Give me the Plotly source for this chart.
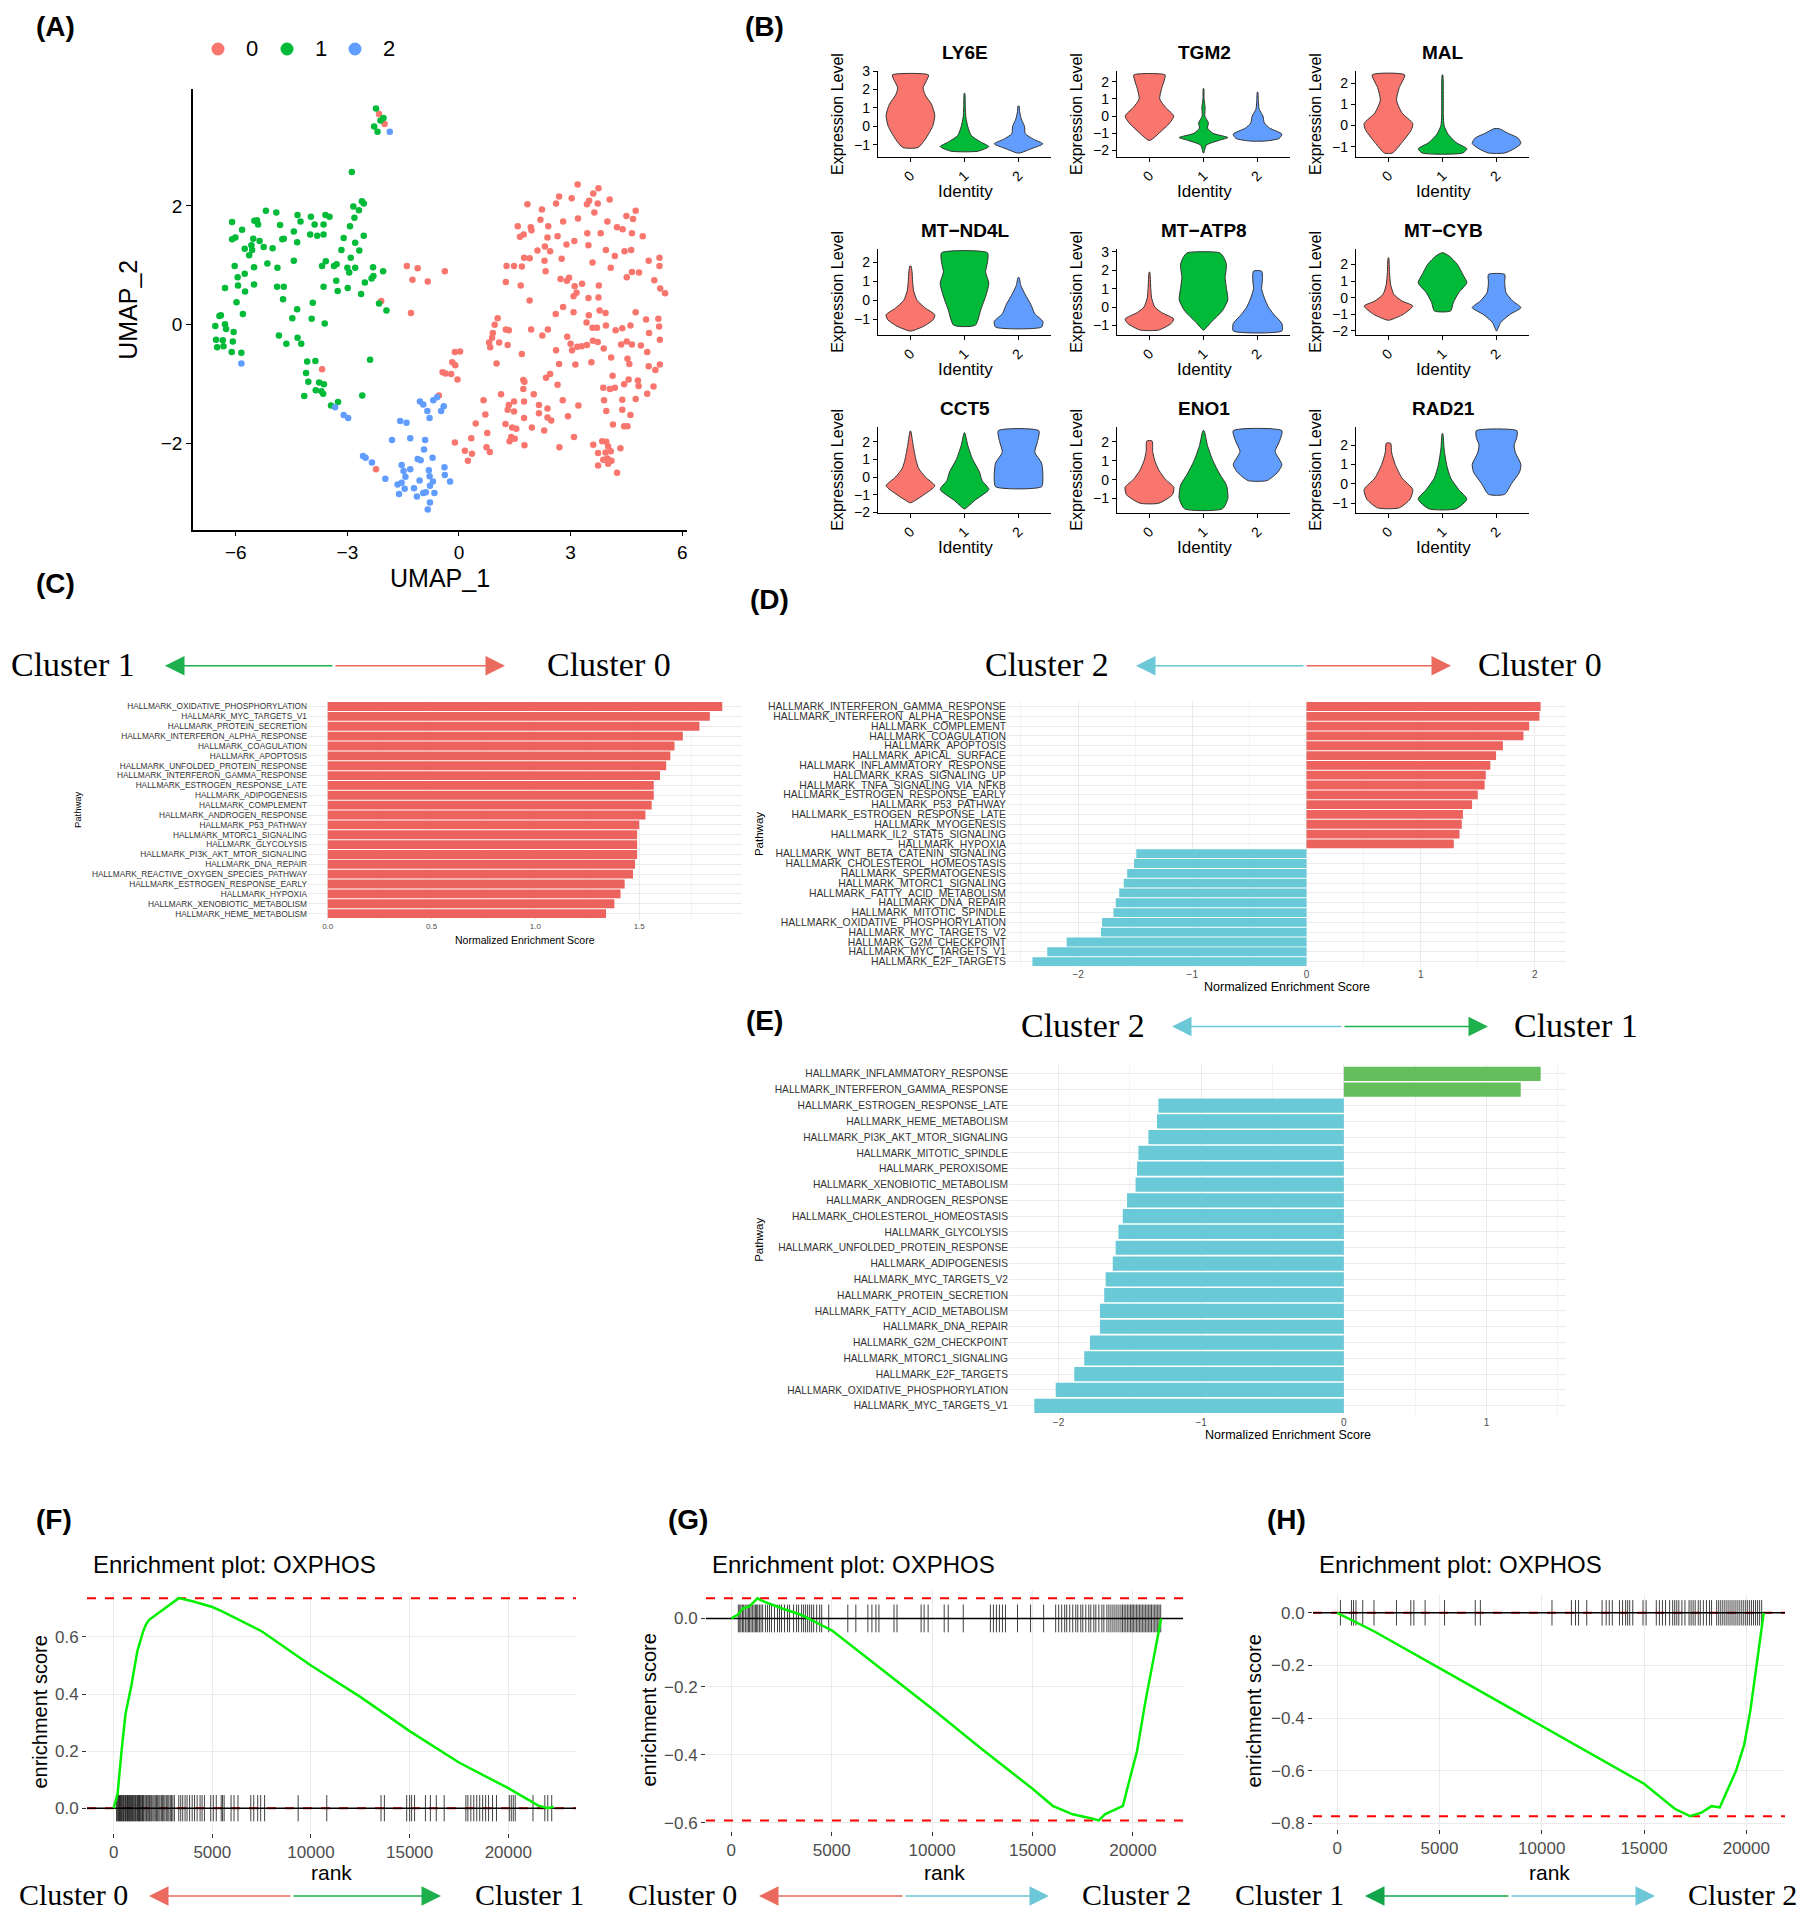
import plotly.graph_objects as go

W, H = 1811, 1920
SANS = "Liberation Sans, Arial, Helvetica, sans-serif"
SERIF = "Liberation Serif, Times New Roman, serif"

RED = "#F8766D"
GREEN = "#00BA38"
BLUE = "#619CFF"
BAR_RED = "#EC625C"
BAR_CYAN = "#69C9D6"
BAR_GREEN = "#64BE5C"

# ---------------- (A) UMAP, cluster points
cluster0 = [(3.19, 2.36), (3.75, 2.30), (3.61, 2.21), (4.05, 2.11), (3.03, 2.13), (2.69, 2.16), (2.61, 2.04),
            (3.50, 2.09), (3.44, 2.03), (1.84, 2.03), (2.23, 1.94), (3.73, 2.04), (4.75, 1.92), (4.50, 1.83),
            (4.68, 1.78), (3.64, 1.89), (3.99, 1.74), (2.80, 1.74), (3.20, 1.79), (2.19, 1.77), (1.58, 1.66),
            (1.93, 1.64), (1.95, 1.59), (2.40, 1.66), (4.25, 1.64), (4.40, 1.61), (4.65, 1.54), (4.94, 1.49),
            (3.81, 1.54), (3.45, 1.54), (1.64, 1.48), (1.74, 1.52), (2.38, 1.47), (2.65, 1.49), (3.10, 1.41),
            (2.31, 1.32), (2.11, 1.25), (2.45, 1.24), (2.89, 1.35), (3.48, 1.34), (3.95, 1.26), (4.19, 1.16),
            (4.45, 1.24), (4.63, 1.26), (5.10, 1.08), (5.39, 1.13), (5.39, 0.99), (5.25, 0.75), (5.41, 0.61),
            (5.54, 0.53), (4.84, 0.88), (4.65, 0.89), (4.51, 0.80), (4.08, 0.96), (3.59, 1.05), (3.76, 0.66),
            (3.31, 0.69), (2.96, 0.79), (3.11, 0.65), (3.16, 0.54), (3.08, 0.48), (2.90, 0.74), (2.73, 0.77),
            (2.76, 1.11), (2.30, 1.08), (2.33, 0.90), (1.90, 1.12), (1.48, 0.99), (1.69, 0.98), (1.75, 1.13),
            (1.28, 0.99), (1.26, 0.72), (1.66, 0.66), (1.90, 0.41), (2.80, 0.30), (3.08, 0.21), (3.49, 0.16),
            (3.78, 0.24), (3.94, 0.20), (3.43, 0.04), (3.59, -0.05), (3.71, -0.05), (4.75, 0.21), (5.03, 0.09),
            (5.38, -0.03), (5.40, -0.25), (5.11, -0.14), (4.61, -0.01), (4.39, -0.06), (4.21, -0.09),
            (3.95, -0.01), (3.60, -0.27), (3.73, -0.29), (3.44, -0.34), (3.30, -0.36), (3.18, -0.37),
            (3.00, -0.32), (3.04, -0.43), (2.91, -0.20), (2.39, -0.08), (2.24, -0.18), (2.61, -0.43),
            (0.96, 0.00), (1.04, 0.11), (1.26, -0.08), (1.34, -0.09), (0.91, -0.14), (0.89, -0.22),
            (0.81, -0.30), (1.08, -0.30), (1.31, -0.34), (1.69, -0.49), (1.01, -0.65), (0.84, -0.38),
            (2.69, -0.66), (3.13, -0.67), (3.56, -0.63), (3.89, -0.40), (4.09, -0.55), (4.13, -0.86),
            (4.53, -0.57), (4.58, -0.66), (4.51, -0.28), (4.36, -0.33), (4.65, -0.33), (4.89, -0.35),
            (5.06, -0.46), (5.10, -0.70), (5.28, -0.76), (5.40, -0.67), (4.56, -0.92), (4.81, -0.94),
            (5.23, -1.04), (5.06, -1.16), (4.83, -1.03), (4.44, -1.00), (4.19, -1.06), (4.06, -1.08),
            (3.88, -1.06), (3.90, -1.27), (3.96, -1.45), (4.14, -1.68), (4.39, -1.26), (4.39, -1.43),
            (4.44, -1.71), (4.53, -1.71), (4.61, -1.52), (4.75, -1.25), (2.34, -0.89), (2.65, -1.01),
            (2.79, -1.27), (3.21, -1.36), (2.93, -1.54), (2.48, -1.61), (2.29, -1.78), (2.38, -1.56),
            (2.15, -1.35), (2.15, -1.49), (2.01, -1.17), (1.76, -0.96), (1.73, -1.08), (1.75, -1.29),
            (1.48, -1.29), (1.34, -1.35), (1.31, -1.43), (1.48, -1.46), (1.13, -1.17), (0.66, -1.27),
            (0.45, -1.66), (1.25, -1.67), (1.54, -1.75), (1.43, -1.73), (1.40, -1.89), (1.75, -1.57),
            (1.96, -1.73), (1.76, -2.03), (1.50, -1.92), (1.36, -1.96), (0.76, -1.82), (0.74, -2.06),
            (0.83, -2.14), (0.33, -1.91), (-0.11, -1.98), (0.16, -2.12), (0.24, -2.29), (0.35, -2.17),
            (2.70, -2.06), (3.09, -1.89), (3.85, -1.96), (3.96, -1.97), (4.01, -2.05), (4.08, -2.13),
            (3.74, -2.16), (3.94, -2.15), (4.34, -2.08), (3.99, -2.25), (4.10, -2.29), (3.88, -2.27),
            (3.74, -2.37), (4.01, -2.34), (4.25, -2.49), (3.61, -2.02), (-0.44, -0.80), (-0.36, -0.82),
            (-0.21, -0.83), (-0.18, -0.63), (-0.10, -0.68), (-0.04, -0.92), (-0.11, -0.46), (0.03, -0.45),
            (0.71, -1.51), (2.45, -0.83), (1.73, -0.93), (5.36, 0.10), (3.48, 0.45), (3.75, 0.46),
            (2.60, 0.18), (1.94, -0.08), (2.38, -1.41), (-2.09, 0.40), (-3.68, -0.75), (-0.54, -1.19),
            (-2.23, -2.43), (-2.15, 3.55), (-2.00, 3.38), (-1.40, 0.99), (-1.11, 0.95), (-1.25, 0.76),
            (-0.84, 0.73), (-0.38, 0.90), (-1.29, 0.20)]

cluster1 = [(-2.23, 3.64), (-2.03, 3.48), (-2.28, 3.34), (-2.19, 3.25), (-2.11, 3.44), (-2.88, 2.57),
            (-2.56, 2.04), (-2.61, 2.08), (-2.84, 1.99), (-2.69, 1.93), (-2.81, 1.80), (-2.93, 1.66),
            (-2.56, 1.50), (-3.10, 1.46), (-2.79, 1.38), (-2.68, 1.25), (-2.91, 1.13), (-3.16, 1.26),
            (-3.59, 1.85), (-3.48, 1.82), (-3.64, 1.69), (-3.88, 1.69), (-4.34, 1.85), (-4.26, 1.74),
            (-3.98, 1.82), (-3.64, 1.52), (-3.81, 1.50), (-4.00, 1.52), (-4.44, 1.57), (-4.35, 1.39),
            (-4.71, 1.45), (-5.19, 1.92), (-4.91, 1.89), (-5.50, 1.75), (-5.40, 1.69), (-5.43, 1.76),
            (-6.10, 1.73), (-5.83, 1.60), (-4.81, 1.68), (-6.10, 1.44), (-6.01, 1.47), (-5.53, 1.45),
            (-5.36, 1.41), (-5.58, 1.34), (-5.76, 1.28), (-5.56, 1.26), (-5.25, 1.31), (-5.01, 1.29),
            (-4.75, 1.44), (-5.64, 1.17), (-6.03, 0.99), (-5.15, 1.03), (-4.88, 0.96), (-4.44, 1.08),
            (-5.51, 0.97), (-5.95, 0.80), (-5.76, 0.86), (-6.29, 0.62), (-5.94, 0.66), (-5.51, 0.68),
            (-5.75, 0.56), (-4.89, 0.64), (-4.71, 0.64), (-5.98, 0.38), (-4.73, 0.43), (-3.93, 0.37),
            (-4.35, 0.26), (-4.48, 0.11), (-3.96, 0.10), (-3.61, 0.02), (-3.29, 1.02), (-3.36, 0.99),
            (-3.58, 1.07), (-3.68, 0.99), (-3.00, 0.96), (-2.95, 0.88), (-2.79, 0.96), (-2.31, 0.97),
            (-2.04, 0.90), (-3.30, 0.74), (-3.64, 0.64), (-3.26, 0.57), (-2.99, 0.62), (-2.53, 0.71),
            (-2.35, 0.78), (-2.30, 0.82), (-2.63, 0.52), (-2.15, 0.36), (-1.95, 0.24), (-6.44, 0.15),
            (-6.40, 0.16), (-6.29, 0.01), (-6.55, -0.02), (-6.26, -0.07), (-6.06, -0.12), (-6.08, -0.28),
            (-6.53, -0.25), (-6.35, -0.26), (-6.50, -0.38), (-6.33, -0.36), (-6.11, -0.46), (-5.85, -0.47),
            (-5.81, 0.18), (-4.84, -0.18), (-4.64, -0.32), (-4.34, -0.22), (-4.24, -0.32), (-4.08, -0.62),
            (-3.86, -0.61), (-4.11, -0.81), (-4.05, -0.96), (-3.76, -0.97), (-3.85, -1.10), (-3.65, -1.16),
            (-3.70, -1.12), (-4.16, -1.20), (-3.44, -1.36), (-3.25, -1.30), (-2.39, -0.59), (-2.60, -1.19),
            (-3.63, -1.00)]

cluster2 = [(-5.85, -0.65), (-3.33, -1.39), (-3.10, -1.52), (-2.98, -1.57), (-1.86, 3.25), (-2.58, -2.21),
            (-2.51, -2.24), (-2.34, -2.32), (-1.98, -2.59), (-1.80, -1.94), (-1.58, -1.62), (-1.41, -1.65),
            (-1.31, -1.91), (-1.54, -2.36), (-1.49, -2.46), (-1.31, -2.43), (-1.05, -1.29), (-0.96, -1.34),
            (-0.69, -1.27), (-0.59, -1.22), (-0.85, -1.45), (-0.79, -1.57), (-0.48, -1.45), (-0.41, -1.37),
            (-0.91, -1.94), (-0.94, -2.10), (-1.11, -2.26), (-1.03, -2.28), (-0.71, -2.24), (-0.81, -2.45),
            (-0.79, -2.55), (-0.39, -2.40), (-0.38, -2.53), (-0.24, -2.64), (-0.78, -2.71), (-0.70, -2.64),
            (-1.06, -2.62), (-1.65, -2.69), (-1.54, -2.66), (-1.44, -2.56), (-1.61, -2.85), (-1.46, -2.76),
            (-1.21, -2.75), (-1.13, -2.89), (-0.96, -2.83), (-0.89, -2.82), (-0.66, -2.83), (-0.78, -2.99),
            (-0.84, -3.11)]

# ---------------- (B) violin outlines: (expression level, violin width)
genes = ["LY6E", "TGM2", "MAL", "MT\u2212ND4L", "MT\u2212ATP8", "MT\u2212CYB", "CCT5", "ENO1", "RAD21"]
LY6E = [[(-1.15, 0.28), (-0.7, 0.55), (0.0, 0.82), (0.6, 0.9), (1.2, 0.78), (1.7, 0.55), (2.1, 0.47), (2.5, 0.6), (2.8, 0.67)],
        [(-1.35, 0.5), (-1.1, 0.9), (-0.85, 0.6), (-0.5, 0.25), (0.0, 0.12), (0.5, 0.05), (1.0, 0.03), (1.8, 0.01)],
        [(-1.45, 0.05), (-1.2, 0.5), (-0.95, 0.9), (-0.7, 0.55), (-0.4, 0.25), (0.0, 0.22), (0.4, 0.1), (0.8, 0.04), (1.1, 0.02)]]
TGM2 = [[(-1.4, 0.05), (-1.0, 0.35), (-0.4, 0.75), (0.0, 0.9), (0.5, 0.6), (1.0, 0.38), (1.6, 0.45), (2.1, 0.55), (2.4, 0.58)],
        [(-2.15, 0.01), (-1.7, 0.1), (-1.4, 0.6), (-1.25, 0.9), (-1.0, 0.35), (-0.7, 0.15), (-0.4, 0.18), (0.0, 0.05), (0.5, 0.06), (1.0, 0.02), (1.6, 0.01)],
        [(-1.45, 0.3), (-1.3, 0.8), (-1.05, 0.9), (-0.7, 0.45), (-0.4, 0.25), (0.0, 0.2), (0.4, 0.06), (0.9, 0.03), (1.4, 0.01)]]
MAL = [[(-1.3, 0.15), (-0.8, 0.5), (-0.2, 0.85), (0.1, 0.9), (0.6, 0.5), (1.2, 0.3), (1.8, 0.4), (2.4, 0.6)],
       [(-1.3, 0.75), (-1.1, 0.9), (-0.8, 0.5), (-0.4, 0.2), (0.0, 0.06), (0.5, 0.03), (1.2, 0.03), (2.4, 0.01)],
       [(-1.3, 0.3), (-1.1, 0.65), (-0.85, 0.9), (-0.6, 0.8), (-0.35, 0.4), (-0.15, 0.1)]]
MT_ND4L = [[(-1.6, 0.05), (-1.35, 0.5), (-1.0, 0.85), (-0.75, 0.9), (-0.4, 0.55), (0.0, 0.25), (0.5, 0.12), (1.0, 0.08), (1.5, 0.06), (1.8, 0.02)],
           [(-1.3, 0.4), (-0.5, 0.6), (0.3, 0.8), (0.9, 0.9), (1.5, 0.78), (2.0, 0.85), (2.5, 0.85)],
           [(-1.4, 0.85), (-1.1, 0.9), (-0.7, 0.6), (-0.2, 0.45), (0.3, 0.25), (0.8, 0.08), (1.2, 0.02)]]
MT_ATP8 = [[(-1.25, 0.35), (-0.9, 0.8), (-0.65, 0.9), (-0.3, 0.45), (0.0, 0.2), (0.5, 0.08), (1.0, 0.05), (1.9, 0.01)],
           [(-1.25, 0.02), (-0.8, 0.3), (-0.2, 0.7), (0.4, 0.9), (1.0, 0.85), (1.6, 0.8), (2.3, 0.85), (2.7, 0.75), (2.95, 0.6)],
           [(-1.3, 0.9), (-0.9, 0.9), (-0.4, 0.6), (0.0, 0.4), (0.5, 0.25), (1.0, 0.15), (1.5, 0.18), (1.95, 0.15)]]
MT_CYB = [[(-1.35, 0.05), (-1.0, 0.55), (-0.5, 0.9), (-0.2, 0.5), (0.2, 0.2), (0.8, 0.08), (1.5, 0.04), (2.4, 0.01)],
          [(-0.8, 0.3), (-0.3, 0.4), (0.3, 0.6), (0.9, 0.9), (1.4, 0.75), (2.0, 0.55), (2.5, 0.25), (2.7, 0.03)],
          [(-2.0, 0.01), (-1.5, 0.15), (-1.0, 0.5), (-0.6, 0.9), (-0.2, 0.6), (0.3, 0.35), (0.9, 0.3), (1.4, 0.3)]]
CCT5 = [[(-1.45, 0.03), (-1.0, 0.5), (-0.5, 0.9), (0.0, 0.55), (0.5, 0.3), (1.0, 0.2), (1.8, 0.1), (2.6, 0.01)],
        [(-1.8, 0.02), (-1.3, 0.4), (-0.7, 0.9), (-0.2, 0.65), (0.3, 0.55), (1.0, 0.3), (1.8, 0.12), (2.5, 0.01)],
        [(-0.55, 0.85), (0.0, 0.9), (0.8, 0.85), (1.4, 0.6), (2.0, 0.7), (2.62, 0.75)]]
ENO1 = [[(-1.25, 0.35), (-0.8, 0.85), (-0.4, 0.9), (0.0, 0.6), (0.5, 0.35), (1.0, 0.2), (1.5, 0.12), (2.05, 0.1)],
        [(-1.55, 0.7), (-1.0, 0.9), (-0.3, 0.85), (0.3, 0.6), (1.0, 0.35), (1.8, 0.15), (2.6, 0.02)],
        [(-0.05, 0.35), (0.4, 0.75), (0.8, 0.9), (1.5, 0.65), (2.0, 0.8), (2.6, 0.9)]]
RAD21 = [[(-1.25, 0.4), (-0.8, 0.8), (-0.3, 0.9), (0.3, 0.5), (1.0, 0.25), (1.6, 0.12), (2.1, 0.08)],
         [(-1.3, 0.5), (-0.8, 0.9), (-0.3, 0.6), (0.3, 0.3), (1.0, 0.15), (1.8, 0.06), (2.6, 0.01)],
         [(-0.55, 0.3), (0.0, 0.55), (0.6, 0.85), (1.0, 0.9), (1.6, 0.7), (2.0, 0.65), (2.4, 0.75), (2.75, 0.75)]]
violins = [LY6E, TGM2, MAL, MT_ND4L, MT_ATP8, MT_CYB, CCT5, ENO1, RAD21]

# ---------------- (C) Cluster 1 vs Cluster 0
C_paths = ["HALLMARK_OXIDATIVE_PHOSPHORYLATION", "HALLMARK_MYC_TARGETS_V1", "HALLMARK_PROTEIN_SECRETION",
           "HALLMARK_INTERFERON_ALPHA_RESPONSE", "HALLMARK_COAGULATION", "HALLMARK_APOPTOSIS",
           "HALLMARK_UNFOLDED_PROTEIN_RESPONSE", "HALLMARK_INTERFERON_GAMMA_RESPONSE",
           "HALLMARK_ESTROGEN_RESPONSE_LATE", "HALLMARK_ADIPOGENESIS", "HALLMARK_COMPLEMENT",
           "HALLMARK_ANDROGEN_RESPONSE", "HALLMARK_P53_PATHWAY", "HALLMARK_MTORC1_SIGNALING",
           "HALLMARK_GLYCOLYSIS", "HALLMARK_PI3K_AKT_MTOR_SIGNALING", "HALLMARK_DNA_REPAIR",
           "HALLMARK_REACTIVE_OXYGEN_SPECIES_PATHWAY", "HALLMARK_ESTROGEN_RESPONSE_EARLY",
           "HALLMARK_HYPOXIA", "HALLMARK_XENOBIOTIC_METABOLISM", "HALLMARK_HEME_METABOLISM"]
C_nes = [1.90, 1.84, 1.79, 1.71, 1.67, 1.65, 1.63, 1.60, 1.57, 1.57, 1.56, 1.53, 1.50, 1.49, 1.49, 1.49,
         1.48, 1.47, 1.43, 1.41, 1.38, 1.34]

# ---------------- (D) Cluster 2 vs Cluster 0
D_paths = ["HALLMARK_INTERFERON_GAMMA_RESPONSE", "HALLMARK_INTERFERON_ALPHA_RESPONSE", "HALLMARK_COMPLEMENT",
           "HALLMARK_COAGULATION", "HALLMARK_APOPTOSIS", "HALLMARK_APICAL_SURFACE",
           "HALLMARK_INFLAMMATORY_RESPONSE", "HALLMARK_KRAS_SIGNALING_UP", "HALLMARK_TNFA_SIGNALING_VIA_NFKB",
           "HALLMARK_ESTROGEN_RESPONSE_EARLY", "HALLMARK_P53_PATHWAY", "HALLMARK_ESTROGEN_RESPONSE_LATE",
           "HALLMARK_MYOGENESIS", "HALLMARK_IL2_STAT5_SIGNALING", "HALLMARK_HYPOXIA",
           "HALLMARK_WNT_BETA_CATENIN_SIGNALING", "HALLMARK_CHOLESTEROL_HOMEOSTASIS",
           "HALLMARK_SPERMATOGENESIS", "HALLMARK_MTORC1_SIGNALING", "HALLMARK_FATTY_ACID_METABOLISM",
           "HALLMARK_DNA_REPAIR", "HALLMARK_MITOTIC_SPINDLE", "HALLMARK_OXIDATIVE_PHOSPHORYLATION",
           "HALLMARK_MYC_TARGETS_V2", "HALLMARK_G2M_CHECKPOINT", "HALLMARK_MYC_TARGETS_V1",
           "HALLMARK_E2F_TARGETS"]
D_nes = [2.05, 2.04, 1.95, 1.90, 1.72, 1.66, 1.61, 1.57, 1.56, 1.50, 1.45, 1.37, 1.36, 1.34, 1.29,
         -1.49, -1.51, -1.57, -1.60, -1.64, -1.67, -1.69, -1.79, -1.80, -2.10, -2.27, -2.40]

# ---------------- (E) Cluster 2 vs Cluster 1
E_paths = ["HALLMARK_INFLAMMATORY_RESPONSE", "HALLMARK_INTERFERON_GAMMA_RESPONSE",
           "HALLMARK_ESTROGEN_RESPONSE_LATE", "HALLMARK_HEME_METABOLISM", "HALLMARK_PI3K_AKT_MTOR_SIGNALING",
           "HALLMARK_MITOTIC_SPINDLE", "HALLMARK_PEROXISOME", "HALLMARK_XENOBIOTIC_METABOLISM",
           "HALLMARK_ANDROGEN_RESPONSE", "HALLMARK_CHOLESTEROL_HOMEOSTASIS", "HALLMARK_GLYCOLYSIS",
           "HALLMARK_UNFOLDED_PROTEIN_RESPONSE", "HALLMARK_ADIPOGENESIS", "HALLMARK_MYC_TARGETS_V2",
           "HALLMARK_PROTEIN_SECRETION", "HALLMARK_FATTY_ACID_METABOLISM", "HALLMARK_DNA_REPAIR",
           "HALLMARK_G2M_CHECKPOINT", "HALLMARK_MTORC1_SIGNALING", "HALLMARK_E2F_TARGETS",
           "HALLMARK_OXIDATIVE_PHOSPHORYLATION", "HALLMARK_MYC_TARGETS_V1"]
E_nes = [1.38, 1.24, -1.30, -1.31, -1.37, -1.44, -1.45, -1.46, -1.52, -1.55, -1.58, -1.60, -1.62, -1.67,
         -1.68, -1.71, -1.71, -1.78, -1.82, -1.89, -2.02, -2.17]

# ---------------- (F)(G)(H) running enrichment score and gene hits
F_rank = [0, 200, 400, 600, 900, 1200, 1500, 1650, 1800, 2200, 2600, 3000, 3300, 4000, 5000, 5500, 7500,
          10000, 12500, 15000, 17500, 20000, 21500, 22000, 22300]
F_es = [0, 0.05, 0.2, 0.33, 0.43, 0.55, 0.62, 0.645, 0.66, 0.68, 0.70, 0.72, 0.736, 0.725, 0.705, 0.69, 0.62,
        0.50, 0.39, 0.27, 0.16, 0.07, 0.01, 0.0, 0.005]
F_hits = [150, 190, 240, 270, 300, 350, 380, 410, 460, 490, 520, 570, 600, 640, 690, 710, 750, 800, 830, 870,
          900, 950, 980, 1020, 1070, 1100, 1140, 1190, 1220, 1260, 1310, 1340, 1380, 1430, 1460, 1500, 1540,
          1600, 1660, 1700, 1760, 1820, 1880, 1930, 1990, 2050, 2110, 2170, 2230, 2290, 2350, 2420, 2480,
          2540, 2600, 2670, 2740, 2800, 2870, 2930, 3000, 3080, 3300, 3400, 3500, 3620, 3720, 3850, 3980,
          4100, 4230, 4380, 4480, 4600, 4920, 5050, 5200, 5450, 5520, 5600, 5950, 6100, 6300, 6950, 7100,
          7300, 7450, 7650, 9350, 10800, 13550, 13720, 14850, 15000, 15100, 15250, 15800, 16050, 16350,
          16750, 17850, 17950, 18100, 18250, 18400, 18550, 18700, 18850, 19000, 19200, 19400, 20050, 20150,
          20250, 20350, 21250, 21850, 22000, 22200]

G_rank = [0, 300, 600, 900, 1300, 1600, 2500, 3500, 4500, 5000, 7500, 10000, 12500, 15000, 16000, 17000,
          18000, 18300, 18600, 19500, 19800, 20200, 20600, 21000, 21200, 21400]
G_es = [0, 0.01, 0.03, 0.035, 0.059, 0.05, 0.03, 0.01, -0.02, -0.035, -0.15, -0.265, -0.385, -0.5, -0.55,
        -0.575, -0.588, -0.593, -0.575, -0.55, -0.48, -0.39, -0.25, -0.13, -0.06, 0.0]
G_hits = [350, 420, 480, 560, 620, 700, 780, 850, 900, 980, 1050, 1130, 1200, 1260, 1320, 1400, 1480, 1560,
          1700, 1800, 1900, 2000, 2150, 2300, 2400, 2500, 2650, 2800, 2900, 3100, 3250, 3350, 3500, 3600,
          3700, 3800, 3900, 4000, 4100, 4250, 4400, 4500, 4850, 5800, 6200, 6800, 7000, 7200, 7350, 8100,
          8250, 9450, 9600, 9800, 10600, 10800, 11550, 12900, 13050, 13200, 13350, 13500, 13650, 14250,
          14900, 15550, 16150, 16300, 16450, 16600, 16700, 16850, 17000, 17150, 17250, 17400, 17500, 17650,
          17800, 17900, 18050, 18150, 18300, 18450, 18550, 18700, 18800, 18900, 19000, 19100, 19200, 19300,
          19400, 19480, 19560, 19640, 19720, 19800, 19880, 19950, 20020, 20100, 20180, 20250, 20330, 20400,
          20480, 20550, 20630, 20700, 20780, 20850, 20920, 21000, 21080, 21150, 21230, 21300, 21380]

H_rank = [0, 1800, 5000, 7500, 10000, 12500, 15000, 16500, 17250, 17800, 18300, 18700, 19000, 19500, 19900,
          20200, 20500, 20700, 20850]
H_es = [0, -0.07, -0.21, -0.32, -0.43, -0.54, -0.65, -0.745, -0.773, -0.76, -0.735, -0.74, -0.69, -0.6, -0.5,
        -0.37, -0.2, -0.08, 0.0]
H_hits = [160, 700, 800, 920, 1250, 1800, 2900, 3600, 3750, 4300, 5250, 6750, 7000, 10500, 11450, 11650,
          11800, 12200, 12950, 13150, 13300, 13450, 13800, 13950, 14100, 14200, 14300, 14450, 14950, 15100,
          15600, 15750, 15900, 16050, 16250, 16400, 16500, 16600, 16700, 16850, 17000, 17200, 17300, 17400,
          17500, 17650, 17750, 17900, 18050, 18200, 18300, 18550, 18650, 18750, 18850, 18950, 19050, 19150,
          19250, 19350, 19450, 19550, 19650, 19750, 19850, 19950, 20050, 20150, 20250, 20350, 20450, 20550,
          20650, 20750]


# ---------------------------------------------------------------- helpers
# page offset seen in the screenshot: content lands a little right and low
def fx(x):
    return x - 8


def fy(y):
    return (y - 14) / 0.9922


def px(x):
    return fx(x) / W


def py(y):
    return 1 - fy(y) / H


layout = dict(width=W, height=H, margin=dict(l=0, r=0, t=0, b=0), autosize=False,
              paper_bgcolor="white", plot_bgcolor="white", showlegend=False,
              font=dict(family=SANS, color="black"))
ann = []
shp = []
traces = []


def axes(i, xbox, ybox, xa, ya):
    k = "" if i == 1 else str(i)
    layout["xaxis" + k] = dict(domain=[px(xbox[0]), px(xbox[1])], anchor="y" + k, **xa)
    layout["yaxis" + k] = dict(domain=[py(ybox[1]), py(ybox[0])], anchor="x" + k, **ya)
    return "x" + k, "y" + k


def text(x, y, s, size, bold=False, family=SANS, angle=0, xanchor="center", color="black"):
    ann.append(dict(x=px(x), y=py(y), xref="paper", yref="paper", text="<b>%s</b>" % s if bold else s,
                    showarrow=False, font=dict(size=size, family=family, color=color), textangle=angle,
                    xanchor=xanchor, yanchor="middle"))


def arrow(x_end, x_mid, y, color):
    ann.append(dict(x=px(x_end), y=py(y), xref="paper", yref="paper", ax=x_mid - x_end, ay=0, text="",
                    showarrow=True, arrowhead=2, arrowsize=2.6, arrowwidth=1.5, arrowcolor=color))


def header(left, right, xl, xr, a0, amid, a1, y, cl, cr, size=34):
    text(xl, y, left, size, family=SERIF)
    text(xr, y, right, size, family=SERIF)
    arrow(a0, amid, y + 1, cl)
    arrow(a1, amid, y + 1, cr)


# panel letters
for s, x, y in [("(A)", 55, 25), ("(B)", 764, 25), ("(C)", 55, 582), ("(D)", 769, 598), ("(E)", 764, 1019),
                ("(F)", 54, 1518), ("(G)", 688, 1518), ("(H)", 1286, 1518)]:
    text(x, y, s, 28, bold=True)

# ---------------------------------------------------------------- (A)
xa = dict(range=[-7.15, 6.13], showline=True, linecolor="black", linewidth=1.5, ticks="outside", ticklen=5,
          tickcolor="black", tickvals=[-6, -3, 0, 3, 6], tickfont=dict(size=19), showgrid=False, zeroline=False)
ya = dict(range=[-3.45, 3.97], showline=True, linecolor="black", linewidth=1.5, ticks="outside", ticklen=5,
          tickcolor="black", tickvals=[-2, 0, 2], tickfont=dict(size=19), showgrid=False, zeroline=False)
xr, yr = axes(1, (193, 687), (87, 528), xa, ya)
for pts, col in [(cluster0, RED), (cluster1, GREEN), (cluster2, BLUE)]:
    traces.append(go.Scatter(x=[p[0] for p in pts], y=[p[1] for p in pts], mode="markers",
                             marker=dict(size=6.5, color=col), xaxis=xr, yaxis=yr))
text(440, 576, "UMAP_1", 25)
text(128, 308, "UMAP_2", 25, angle=-90)
for lab, xd, col in [("0", 218, RED), ("1", 287, GREEN), ("2", 355, BLUE)]:
    shp.append(dict(type="circle", xref="paper", yref="paper", xsizemode="pixel", ysizemode="pixel",
                    xanchor=px(xd), yanchor=py(47), x0=-6.5, x1=6.5, y0=-6.5, y1=6.5,
                    fillcolor=col, line=dict(width=0)))
    text(xd + 34, 47, lab, 22)

# ---------------------------------------------------------------- (B)
for g, (gene, prof) in enumerate(zip(genes, violins)):
    r, c = divmod(g, 3)
    allys = [p[0] for v in prof for p in v]
    lo, hi = min(allys), max(allys)
    pad = 0.05 * (hi - lo)
    xa = dict(range=[-0.6, 2.6], showline=True, linecolor="black", linewidth=1.3, ticks="outside", ticklen=4,
              tickcolor="black", tickvals=[0, 1, 2], ticktext=["0", "1", "2"], tickangle=-45,
              tickfont=dict(size=14), showgrid=False, zeroline=False)
    ya = dict(range=[lo - pad, hi + pad], showline=True, linecolor="black", linewidth=1.3, ticks="outside",
              ticklen=4, tickcolor="black", dtick=1, tickfont=dict(size=14), showgrid=False, zeroline=False)
    xr, yr = axes(2 + g, (878 + 239 * c, 1051 + 239 * c), (69 + 178 * r, 155 + 178 * r), xa, ya)
    for k, (v, col) in enumerate(zip(prof, [RED, GREEN, BLUE])):
        ys = [p[0] for p in v]
        hw = [p[1] / 2 for p in v]
        vx = [k + h for h in hw] + [k - h for h in hw[::-1]] + [k + hw[0]]
        vy = ys + ys[::-1] + [ys[0]]
        traces.append(go.Scatter(x=vx, y=vy, mode="lines", fill="toself", fillcolor=col,
                                 line=dict(color="#333333", width=1, shape="spline", smoothing=0.6),
                                 xaxis=xr, yaxis=yr))
    text(965 + 239 * c, 51 + 178 * r, gene, 19, bold=True)
    text(965 + 239 * c, 190 + 178 * r, "Identity", 17)
    text(838 + 239 * c, 112 + 178 * r, "Expression Level", 16, angle=-90)


# ---------------------------------------------------------------- (C)(D)(E)
def nes_panel(i, paths, nes, colors, xbox, ybox, lab_size, tick_size, title_size, dtick, fmt, path_x):
    lo, hi = min(0, min(nes)), max(0, max(nes))
    pad = 0.05 * (hi - lo)
    n = len(paths)
    xa = dict(range=[lo - pad, hi + pad], dtick=dtick, tickformat=fmt, showgrid=True, gridcolor="#EBEBEB",
              gridwidth=1, minor=dict(showgrid=True, gridcolor="#F4F4F4", dtick=dtick / 2),
              zeroline=False, showline=False, ticks="", tickfont=dict(size=tick_size, color="#4D4D4D"))
    ya = dict(type="category", categoryorder="array", categoryarray=paths, range=[n - 0.4, -0.6],
              tickmode="array", tickvals=paths, ticktext=paths,
              showgrid=True, gridcolor="#EBEBEB", gridwidth=1, zeroline=False, showline=False, ticks="",
              tickfont=dict(size=lab_size, color="#333333"))
    xr, yr = axes(i, xbox, ybox, xa, ya)
    traces.append(go.Bar(x=nes, y=paths, orientation="h", width=0.9, marker=dict(color=colors, line=dict(width=0)),
                         xaxis=xr, yaxis=yr))
    cx = (xbox[0] + xbox[1]) / 2
    text(cx, ybox[1] + 20, "Normalized Enrichment Score", title_size)
    text(path_x, (ybox[0] + ybox[1]) / 2, "Pathway", title_size - 1, angle=-90)


nes_panel(11, C_paths, C_nes, [BAR_RED] * len(C_nes), (308, 742), (699, 918), 8.3, 8, 10.5, 0.5, ".1f", 77)
nes_panel(12, D_paths, D_nes, [BAR_RED if v > 0 else BAR_CYAN for v in D_nes], (1007, 1566), (699, 966),
          10.4, 10, 12.5, 1, "d", 759)
nes_panel(13, E_paths, E_nes, [BAR_GREEN if v > 0 else BAR_CYAN for v in E_nes], (1009, 1566), (1063, 1414),
          10.2, 10, 12.5, 1, "d", 759)

header("Cluster 1", "Cluster 0", 73, 609, 165, 334, 505, 663, "#1DB04C", "#EA6A5E")
header("Cluster 2", "Cluster 0", 1047, 1540, 1136, 1305, 1451, 663, "#6CC7D6", "#EA6A5E")
header("Cluster 2", "Cluster 1", 1083, 1576, 1172, 1343, 1488, 1024, "#6CC7D6", "#1DB04C")


# ---------------------------------------------------------------- (F)(G)(H)
def gsea_panel(i, rank, es, hits, xbox, ybox, xrange_, yrange_, ytitle_x):
    xa = dict(range=xrange_, tickvals=[0, 5000, 10000, 15000, 20000], tickformat="d", showgrid=True,
              gridcolor="#EBEBEB", gridwidth=1.3, zeroline=False, showline=False, ticks="outside", ticklen=4,
              tickcolor="#333333", tickfont=dict(size=17, color="#4D4D4D"))
    ya = dict(range=yrange_, dtick=0.2, tickformat=".1f", showgrid=True, gridcolor="#EBEBEB", gridwidth=1.3,
              zeroline=False, showline=False, ticks="outside", ticklen=4, tickcolor="#333333",
              tickfont=dict(size=17, color="#4D4D4D"))
    xr, yr = axes(i, xbox, ybox, xa, ya)
    top, bot = max(es), min(es)
    half = (top - bot) / 16
    rx, ry = [], []
    for h in hits:
        rx += [h, h, None]
        ry += [-half, half, None]
    lim = [xrange_[0], xrange_[1]]
    traces.append(go.Scatter(x=lim, y=[bot, bot], mode="lines", line=dict(color="red", width=2, dash="dash"),
                             xaxis=xr, yaxis=yr))
    traces.append(go.Scatter(x=lim, y=[top, top], mode="lines", line=dict(color="red", width=2, dash="dash"),
                             xaxis=xr, yaxis=yr))
    traces.append(go.Scatter(x=lim, y=[0, 0], mode="lines", line=dict(color="black", width=1.6),
                             xaxis=xr, yaxis=yr))
    traces.append(go.Scatter(x=rx, y=ry, mode="lines", line=dict(color="rgba(0,0,0,0.75)", width=1),
                             xaxis=xr, yaxis=yr))
    traces.append(go.Scatter(x=rank, y=es, mode="lines", line=dict(color="#00F000", width=2.5),
                             xaxis=xr, yaxis=yr))
    text(xbox[0] + 4, 1563, "Enrichment plot: OXPHOS", 24, xanchor="left")
    text((xbox[0] + xbox[1]) / 2, 1871, "rank", 21)
    text(ytitle_x, (ybox[0] + ybox[1]) / 2, "enrichment score", 20, angle=-90)


gsea_panel(14, F_rank, F_es, F_hits, (87, 576), (1591, 1832), [-1350, 23430], [-0.087, 0.757], 40)
gsea_panel(15, G_rank, G_es, G_hits, (706, 1183), (1589, 1830), [-1260, 22490], [-0.624, 0.083], 649)
gsea_panel(16, H_rank, H_es, H_hits, (1313, 1785), (1593, 1828), [-1180, 21890], [-0.822, 0.071], 1254)

header("Cluster 0", "Cluster 1", 73, 529, 149, 292, 441, 1894, "#EA6A5E", "#1DB04C", 30)
header("Cluster 0", "Cluster 2", 682, 1136, 759, 904, 1049, 1894, "#EA6A5E", "#6CC7D6", 30)
header("Cluster 1", "Cluster 2", 1289, 1742, 1365, 1510, 1655, 1894, "#12A54A", "#6CC7D6", 30)

layout["annotations"] = ann
layout["shapes"] = shp
fig = go.Figure(data=traces, layout=layout)
fig.write_html("out.html")
